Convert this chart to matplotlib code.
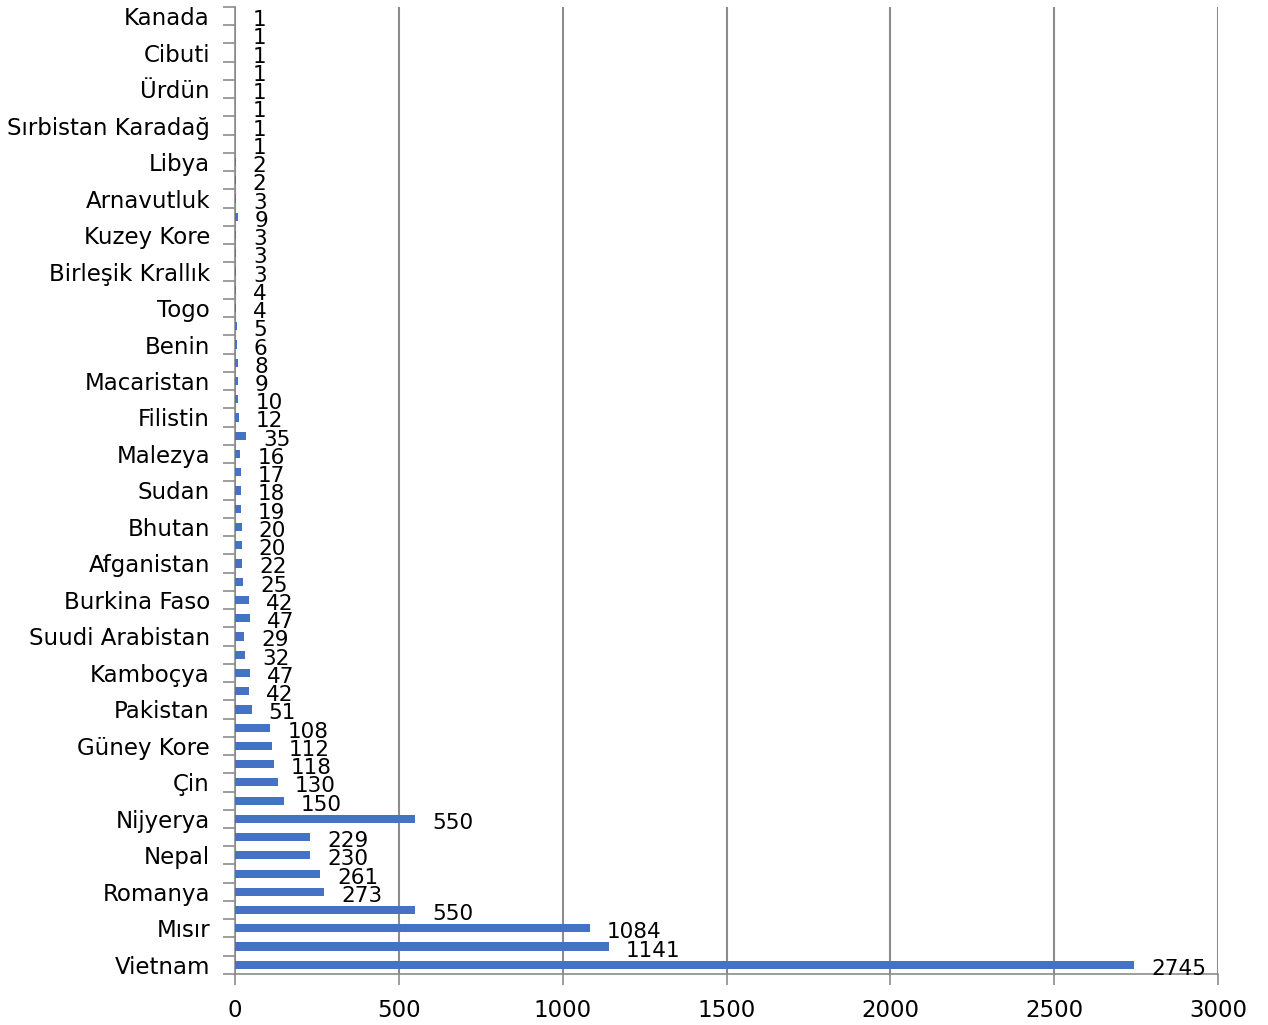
import matplotlib.pyplot as plt
import numpy as np

# countries, top to bottom; only every other one is labelled on the axis
countries = [
    "Kanada", "", "Cibuti", "", "Ürdün", "", "Sırbistan Karadağ", "",
    "Libya", "", "Arnavutluk", "", "Kuzey Kore", "", "Birleşik Krallık", "",
    "Togo", "", "Benin", "", "Macaristan", "", "Filistin", "",
    "Malezya", "", "Sudan", "", "Bhutan", "", "Afganistan", "",
    "Burkina Faso", "", "Suudi Arabistan", "", "Kamboçya", "", "Pakistan", "",
    "Güney Kore", "", "Çin", "", "Nijyerya", "", "Nepal", "",
    "Romanya", "", "Mısır", "", "Vietnam",
]
counts = [
    1, 1, 1, 1, 1, 1, 1, 1,
    2, 2, 3, 9, 3, 3, 3, 4,
    4, 5, 6, 8, 9, 10, 12, 35,
    16, 17, 18, 19, 20, 20, 22, 25,
    42, 47, 29, 32, 47, 42, 51, 108,
    112, 118, 130, 150, 550, 229, 230, 261,
    273, 550, 1084, 1141, 2745,
]
xticks = [0, 500, 1000, 1500, 2000, 2500, 3000]

n = len(counts)
ypos = np.arange(n)[::-1]  # first country at the top

fig = plt.figure(figsize=(12.68, 10.25), dpi=100)
ax = fig.add_axes([0.1853, 0.0498, 0.7753, 0.9434])

ax.barh(ypos, counts, height=0.45, color="#4472c4", zorder=3)

for y, v in zip(ypos, counts):
    ax.annotate(str(v), (v, y), xytext=(17, -4), textcoords="offset pixels",
                ha="left", va="center", fontsize=15.5, color="black", zorder=4)

ax.set_xlim(0, 3000)
ax.set_ylim(-0.5, n - 0.5)
ax.set_xticks(xticks)
ax.set_xticklabels([str(t) for t in xticks], fontsize=16.5)
ax.tick_params(axis="x", length=8, width=1.2, color="#8c8c8c", pad=10)

lab_idx = [i for i, c in enumerate(countries) if c]
ax.set_yticks([ypos[i] for i in lab_idx])
ax.set_yticklabels([countries[i] for i in lab_idx], fontsize=16.5)
ax.tick_params(axis="y", which="major", length=0, pad=18)
ax.set_yticks(np.arange(n + 1) - 0.5, minor=True)
ax.tick_params(axis="y", which="minor", length=9, width=1.2, color="#8c8c8c")

ax.grid(axis="x", color="#8c8c8c", linewidth=1.5, zorder=0)
for s in ["top", "right"]:
    ax.spines[s].set_visible(False)
for s in ["left", "bottom"]:
    ax.spines[s].set_color("#8c8c8c")
    ax.spines[s].set_linewidth(1.2)

fig.savefig("out.png", dpi=100, facecolor="white")
